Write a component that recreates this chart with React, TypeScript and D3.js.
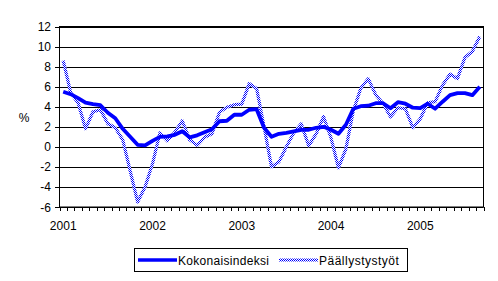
import React from "react";
import * as d3 from "d3";

const months: string[] = [];
for (let y = 2001; y <= 2005; y++) {
  for (let m = 1; m <= 12; m++) {
    if (y === 2005 && m > 9) break;
    months.push(`${y}-${m}`);
  }
}

const kokonaisindeksi = [
  5.5, 5.25, 4.85, 4.4, 4.25, 4.15, 3.4, 2.85, 1.8, 1.0, 0.2, 0.15,
  0.6, 1.0, 1.05, 1.2, 1.55, 0.95, 1.15, 1.45, 1.75, 2.55, 2.6, 3.2,
  3.2, 3.7, 3.75, 1.9, 1.0, 1.3, 1.4, 1.55, 1.7, 1.7, 1.9, 2.0,
  1.7, 1.3, 2.2, 3.8, 4.05, 4.1, 4.35, 4.35, 3.85, 4.45, 4.3, 3.9,
  3.85, 4.3, 3.8, 4.5, 5.15, 5.35, 5.35, 5.15, 6.0,
];

const paallystystyot = [
  8.6, 5.4, 4.4, 1.8, 3.5, 3.7, 2.3, 1.9, 0.7, -2.4, -5.5, -4.0,
  -1.7, 1.4, 0.6, 1.45, 2.6, 0.7, 0.15, 0.95, 1.3, 3.45, 3.95, 4.2,
  4.25, 6.3, 5.8, 2.0, -2.0, -1.5, 0.0, 1.4, 2.3, 0.1, 1.3, 3.0,
  0.9, -2.1, -0.2, 3.6, 5.85, 6.8, 5.2, 4.3, 3.0, 3.9, 3.8, 1.9,
  2.8, 4.4, 4.5, 6.15, 7.25, 6.8, 8.9, 9.5, 11.0,
];

const yTicks = [-6, -4, -2, 0, 2, 4, 6, 8, 10, 12];
const yearLabels = ["2001", "2002", "2003", "2004", "2005"];

const W = 498;
const H = 281;
const plot = { left: 59.5, right: 483.5, top: 26.5, bottom: 207 };
const font = "Arial, 'Liberation Sans', sans-serif";

export default function App() {
  const x = d3
    .scaleBand<string>()
    .domain(months)
    .range([plot.left, plot.right])
    .paddingInner(0)
    .paddingOuter(0);
  const y = d3.scaleLinear().domain([-6, 12]).range([plot.bottom, plot.top]);
  const cx = (i: number) => (x(months[i]) as number) + x.bandwidth() / 2;

  const line = d3
    .line<number>()
    .x((_, i) => cx(i))
    .y((d) => y(d));

  const boundaries = months.map((m) => x(m) as number).concat([plot.right]);

  return (
    <div style={{ position: "absolute", left: 0, top: 0 }}>
      <svg width={W} height={H} style={{ display: "block", background: "#fff" }}>
        <defs>
          <pattern id="hatch" width="2" height="2" patternUnits="userSpaceOnUse">
            <rect x="0" y="0" width="2" height="2" fill="#ffffff" />
            <rect x="0" y="0" width="1" height="1" fill="#0000ff" />
            <rect x="1" y="1" width="1" height="1" fill="#0000ff" />
          </pattern>
        </defs>
        <rect width={W} height={H} fill="#fff" />
        {/* gridlines */}
        {yTicks.map((t) => (
          <line
            key={t}
            x1={plot.left - 4.5}
            x2={plot.right}
            y1={Math.round(y(t)) + 0.5}
            y2={Math.round(y(t)) + 0.5}
            stroke="#000"
            strokeWidth={1}
          />
        ))}
        {/* plot border */}
        <rect
          x={plot.left}
          y={plot.top}
          width={plot.right - plot.left}
          height={plot.bottom - plot.top}
          fill="none"
          stroke="#000"
          strokeWidth={1}
        />
        {/* x ticks */}
        {boundaries.map((b, i) => (
          <line
            key={i}
            x1={Math.round(b) + 0.5}
            x2={Math.round(b) + 0.5}
            y1={plot.bottom}
            y2={plot.bottom + 4}
            stroke="#000"
          />
        ))}
        {/* y labels */}
        {yTicks.map((t) => (
          <text
            key={t}
            x={51}
            y={y(t) + 4.5}
            textAnchor="end"
            fontFamily={font}
            fontSize={12}
            fill="#000"
          >
            {t}
          </text>
        ))}
        <text x={24} y={122} textAnchor="middle" fontFamily={font} fontSize={12}>
          %
        </text>
        {/* x labels */}
        {yearLabels.map((yr, k) => (
          <text
            key={yr}
            x={cx(k * 12)}
            y={230}
            textAnchor="middle"
            fontFamily={font}
            fontSize={12}
          >
            {yr}
          </text>
        ))}
        {/* series */}
        <path
          d={line(paallystystyot) || ""}
          fill="none"
          stroke="url(#hatch)"
          strokeWidth={3.2}
          strokeLinejoin="round"
        />
        <path
          d={line(kokonaisindeksi) || ""}
          fill="none"
          stroke="#0000ff"
          strokeWidth={3.8}
          strokeLinejoin="round"
        />
        {/* legend */}
        <rect x={134.5} y={248.5} width={273} height={23} fill="#fff" stroke="#000" />
        <line x1={138} x2={177} y1={260} y2={260} stroke="#0000ff" strokeWidth={3.5} />
        <text x={178} y={264.5} fontFamily={font} fontSize={12} letterSpacing={0.3}>
          Kokonaisindeksi
        </text>
        <line x1={279} x2={318} y1={260} y2={260} stroke="url(#hatch)" strokeWidth={3} />
        <text x={319} y={264.5} fontFamily={font} fontSize={12} letterSpacing={0.5}>
          Päällystystyöt
        </text>
      </svg>
    </div>
  );
}
